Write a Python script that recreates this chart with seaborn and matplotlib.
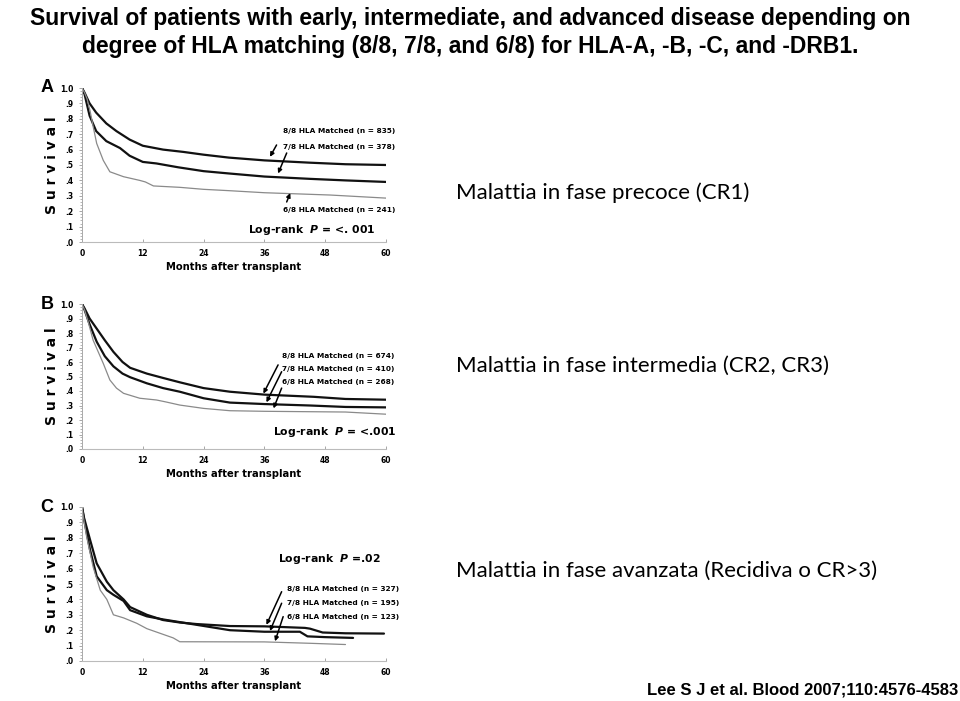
import matplotlib
matplotlib.use("Agg")
import matplotlib.pyplot as plt
import seaborn as sns
import pandas as pd

# ---------------- data ----------------
groups = ["8/8", "7/8", "6/8"]

A_88_t = [0, 0.5, 1.5, 2.8, 4.8, 6.8, 9.4, 12, 16, 20, 24, 29, 36, 45, 52, 60]
A_88_s = [1.0, 0.97, 0.90, 0.84, 0.77, 0.72, 0.665, 0.625, 0.60, 0.585, 0.567, 0.548, 0.53, 0.515, 0.505, 0.50]
A_78_t = [0, 0.5, 1.5, 2.8, 4.8, 7.5, 9.4, 12, 14.7, 19, 24, 29, 36, 45, 52, 60]
A_78_s = [1.0, 0.96, 0.82, 0.72, 0.655, 0.61, 0.56, 0.52, 0.51, 0.485, 0.46, 0.445, 0.425, 0.41, 0.40, 0.39]
A_68_t = [0, 0.5, 1.0, 1.6, 2.2, 2.9, 4.2, 5.5, 8.2, 11.4, 12.5, 14.1, 19.3, 24, 29.2, 36, 49, 60]
A_68_s = [1.0, 0.97, 0.93, 0.85, 0.75, 0.64, 0.53, 0.456, 0.424, 0.40, 0.39, 0.364, 0.355, 0.342, 0.333, 0.32, 0.305, 0.285]

B_88_t = [0, 0.5, 1.5, 2.9, 4.5, 6.2, 8, 9.5, 12.8, 16, 19.3, 24, 29.2, 36, 45.7, 52, 60]
B_88_s = [1.0, 0.97, 0.90, 0.83, 0.75, 0.67, 0.60, 0.56, 0.52, 0.49, 0.46, 0.42, 0.395, 0.375, 0.36, 0.345, 0.34]
B_78_t = [0, 0.5, 1.5, 2.9, 4.5, 6.2, 8, 9.5, 12.8, 16, 19.3, 24, 29.2, 36, 45, 52, 60]
B_78_s = [1.0, 0.96, 0.86, 0.74, 0.64, 0.57, 0.52, 0.495, 0.453, 0.42, 0.395, 0.35, 0.32, 0.31, 0.30, 0.29, 0.287]
B_68_t = [0, 0.5, 1.2, 2.2, 3.2, 4.2, 5.5, 6.8, 8.2, 11.4, 14.7, 16.5, 19.3, 24, 29.2, 36, 52, 60]
B_68_s = [1.0, 0.96, 0.88, 0.75, 0.67, 0.59, 0.476, 0.42, 0.384, 0.35, 0.338, 0.325, 0.303, 0.28, 0.264, 0.26, 0.255, 0.24]

C_88_t = [0, 0.4, 1.6, 2.9, 4.9, 6.2, 8.2, 9.5, 12.8, 16, 19.3, 22.6, 29.2, 36, 44, 45, 47.5, 52, 59.6]
C_88_s = [1.0, 0.93, 0.786, 0.634, 0.515, 0.46, 0.40, 0.35, 0.30, 0.266, 0.25, 0.24, 0.227, 0.225, 0.215, 0.21, 0.185, 0.18, 0.178]
C_78_t = [0, 0.4, 1.6, 2.9, 4.9, 6.2, 8.2, 9.5, 12.8, 16, 22.6, 29.2, 36, 43, 44.5, 48, 53.5]
C_78_s = [1.0, 0.92, 0.72, 0.55, 0.46, 0.43, 0.39, 0.33, 0.29, 0.27, 0.235, 0.20, 0.19, 0.19, 0.16, 0.155, 0.15]
C_68_t = [0, 0.3, 0.9, 2.2, 3.6, 4.9, 6.2, 8.2, 10.8, 12.8, 15.4, 18, 19.3, 36, 45, 52]
C_68_s = [1.0, 0.93, 0.81, 0.61, 0.46, 0.40, 0.30, 0.28, 0.245, 0.21, 0.18, 0.15, 0.125, 0.124, 0.115, 0.107]

A_n = [835, 378, 241]
B_n = [674, 410, 268]
C_n = [327, 195, 123]

panel_letters = ["A", "B", "C"]
logrank_texts = ["Log-rank  $P$ = <. 001", "Log-rank  $P$ = <.001", "Log-rank  $P$ =.02"]
side_texts = ["Malattia in fase precoce (CR1)",
              "Malattia in fase intermedia (CR2, CR3)",
              "Malattia in fase avanzata (Recidiva o CR>3)"]
x_ticks = [0, 12, 24, 36, 48, 60]
y_ticks = [0.0, 0.1, 0.2, 0.3, 0.4, 0.5, 0.6, 0.7, 0.8, 0.9, 1.0]
y_ticklabels = [".0", ".1", ".2", ".3", ".4", ".5", ".6", ".7", ".8", ".9", "1.0"]
title_lines = ["Survival of patients with early, intermediate, and advanced disease depending on",
               "degree of HLA matching (8/8, 7/8, and 6/8) for HLA-A, -B, -C, and -DRB1."]
citation = "Lee S J et al. Blood 2007;110:4576-4583"

# annotation layout (label positions & arrows, data coords)
A_label_xy = [(39.7, 0.72), (39.7, 0.62), (39.7, 0.205)]
A_arrows = [((38.4, 0.63), (37.1, 0.553)), ((40.4, 0.578), (38.7, 0.445)), ((40.4, 0.26), (41.1, 0.318))]
A_logrank_xy = (32.8, 0.078)
B_label_xy = [(39.5, 0.64), (39.5, 0.55), (39.5, 0.46)]
B_arrows = [((38.7, 0.58), (35.8, 0.382)), ((39.4, 0.533), (36.4, 0.322)), ((39.4, 0.42), (37.8, 0.28))]
B_logrank_xy = (37.7, 0.12)
C_label_xy = [(40.4, 0.466), (40.4, 0.375), (40.4, 0.288)]
C_arrows = [((39.4, 0.45), (36.4, 0.235)), ((39.4, 0.375), (37.1, 0.195)), ((39.7, 0.288), (38.1, 0.128))]
C_logrank_xy = (38.7, 0.66)

# ---------------- style ----------------
sns.set_theme(style="white")
plt.rcParams["font.family"] = ["DejaVu Sans"]
plt.rcParams["text.color"] = "black"
plt.rcParams["axes.labelcolor"] = "black"
plt.rcParams["xtick.color"] = "black"
plt.rcParams["ytick.color"] = "black"
plt.rcParams["mathtext.fontset"] = "custom"
plt.rcParams["mathtext.it"] = "DejaVu Sans:bold:italic"
plt.rcParams["mathtext.rm"] = "DejaVu Sans:bold"

fig = plt.figure(figsize=(9.6, 7.01), dpi=100)
fig.patch.set_facecolor("white")

W, H = 960, 701
# axes pixel boxes: left, right, top(y=1), bottom(y=0)
boxes = [(82, 386, 88, 242), (82, 386, 304, 449), (82, 386, 507, 661)]

panels = [
    ([A_88_t, A_78_t, A_68_t], [A_88_s, A_78_s, A_68_s], A_n, A_label_xy, A_arrows, A_logrank_xy),
    ([B_88_t, B_78_t, B_68_t], [B_88_s, B_78_s, B_68_s], B_n, B_label_xy, B_arrows, B_logrank_xy),
    ([C_88_t, C_78_t, C_68_t], [C_88_s, C_78_s, C_68_s], C_n, C_label_xy, C_arrows, C_logrank_xy),
]
line_colors = {"8/8": "#111111", "7/8": "#111111", "6/8": "#8a8a8a"}
line_widths = {"8/8": 1.6, "7/8": 1.6, "6/8": 0.9}

side_y = [193, 366, 571]

for i, (box, panel) in enumerate(zip(boxes, panels)):
    l, r, t, b = box
    ax = fig.add_axes([l / W, 1 - b / H, (r - l) / W, (b - t) / H])
    ts, ss, ns, label_xy, arrows, lr_xy = panel
    rows = []
    for g, tt, sv in zip(groups, ts, ss):
        for a, s in zip(tt, sv):
            rows.append({"group": g, "month": a, "surv": s})
    df = pd.DataFrame(rows)
    for g in groups:
        sub = df[df["group"] == g]
        sns.lineplot(data=sub, x="month", y="surv", ax=ax, color=line_colors[g],
                     lw=line_widths[g], estimator=None, sort=False, legend=False)
    ax.set_xlim(0, 60)
    ax.set_ylim(0, 1.0)
    ax.set_xticks(x_ticks)
    ax.set_xticklabels([str(v) for v in x_ticks], fontsize=5.5, fontweight="bold")
    ax.set_yticks(y_ticks)
    ax.set_yticklabels(y_ticklabels, fontsize=5.5, fontweight="bold")
    ax.set_yticks([k * 0.02 for k in range(51)], minor=True)
    ax.tick_params(axis="y", which="minor", length=1.5, width=0.5, color="#999999", left=True)
    ax.tick_params(axis="y", which="major", length=2, width=0.6, color="#999999", pad=4, left=True)
    ax.tick_params(axis="x", which="major", length=2, width=0.6, color="#999999", pad=5, bottom=True,
                   direction="in")
    for sp in ["top", "right"]:
        ax.spines[sp].set_visible(False)
    ax.spines["left"].set_color("#aaaaaa")
    ax.spines["left"].set_linewidth(0.7)
    ax.spines["bottom"].set_color("#bbbbbb")
    ax.spines["bottom"].set_linewidth(0.8)
    ax.set_xlabel("Months after transplant", fontsize=7.2, fontweight="bold", labelpad=3)
    ax.set_ylabel("S u r v i v a l", fontsize=10, fontweight="bold", labelpad=1)
    ax.text(-0.115, 1.0, panel_letters[i], transform=ax.transAxes, fontsize=13,
            fontweight="bold", family=["Liberation Sans"], ha="center", va="center")
    for g, n, (lx, ly) in zip(groups, ns, label_xy):
        ax.text(lx, ly, f"{g} HLA Matched (n = {n})", fontsize=5.3, fontweight="bold",
                ha="left", va="center", clip_on=False)
    for (tail, head) in arrows:
        ax.annotate("", xy=head, xytext=tail,
                    arrowprops=dict(arrowstyle="-|>", color="black", lw=1.1,
                                    mutation_scale=6, shrinkA=0, shrinkB=0))
    ax.text(lr_xy[0], lr_xy[1], logrank_texts[i], fontsize=7.8, fontweight="bold",
            ha="left", va="center")
    fig.text(456 / W, 1 - side_y[i] / H, side_texts[i], fontsize=16,
             family=["Lato", "DejaVu Sans"], ha="left", va="center")

title_y = [19, 46]
for ty, line in zip(title_y, title_lines):
    fig.text(470 / W, 1 - ty / H, line, fontsize=16.5, fontweight="bold",
             family=["Liberation Sans"], ha="center", va="center")

fig.text(958 / W, 1 - 690 / H, citation, fontsize=12, fontweight="bold",
         family=["Liberation Sans"], ha="right", va="center")

fig.savefig("out.png", dpi=100, facecolor="white")
